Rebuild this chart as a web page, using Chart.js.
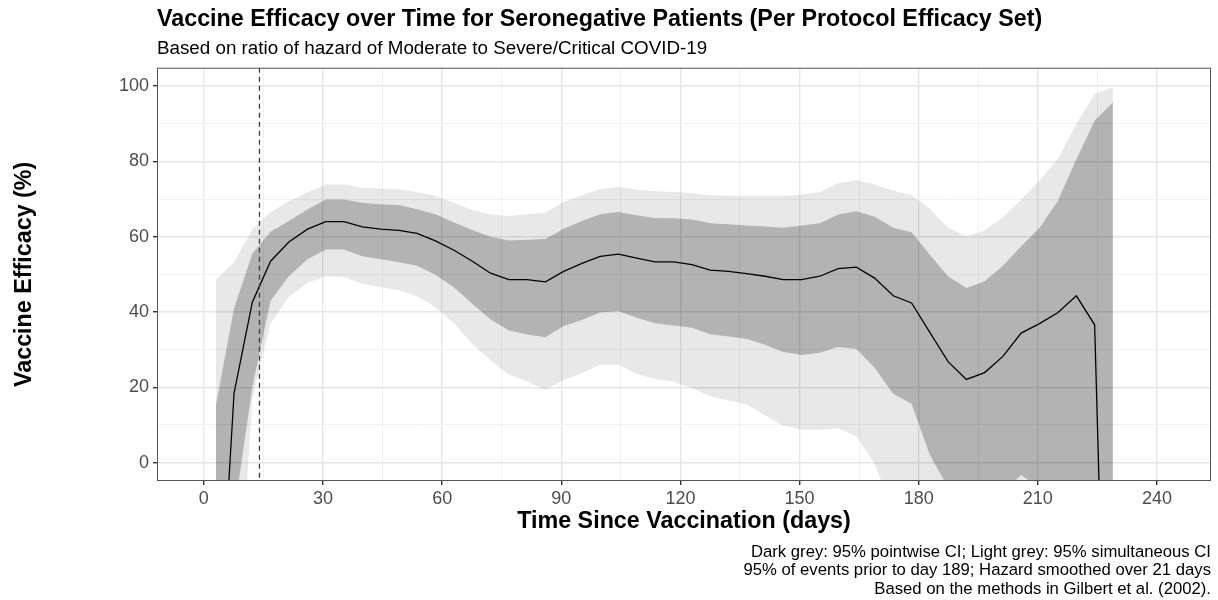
<!DOCTYPE html>
<html><head><meta charset="utf-8">
<script src="https://cdn.jsdelivr.net/npm/chart.js@4.4.1/dist/chart.umd.min.js"></script>
<style>
html,body{margin:0;padding:0;background:#fff;}
#wrap{position:relative;width:1218px;height:600px;}
#caption{position:absolute;right:7px;top:542.5px;font-family:"Liberation Sans",Arial,sans-serif;font-size:16.7px;line-height:18.5px;text-align:right;color:#000;white-space:nowrap;}
</style></head><body>
<div id="wrap"><canvas id="c" width="1218" height="600" style="width:1218px;height:600px"></canvas>
<div id="caption">Dark grey: 95% pointwise CI; Light grey: 95% simultaneous CI<br>95% of events prior to day 189; Hazard smoothed over 21 days<br>Based on the methods in Gilbert et al. (2002).</div></div>
<script>
const days = [3.0, 7.6, 12.2, 16.8, 21.4, 26.1, 30.7, 35.3, 39.9, 44.5, 49.1, 53.7, 58.3, 63.0, 67.6, 72.2, 76.8, 81.4, 86.0, 90.6,
  95.2, 99.8, 104.4, 109.0, 113.6, 118.3, 122.9, 127.5, 132.1, 136.7, 141.3, 145.9, 150.5, 155.1, 159.7, 164.3, 168.9, 173.6, 178.2, 182.8,
  187.4, 192.0, 196.6, 201.2, 205.8, 210.4, 215.0, 219.7, 224.3, 228.9];
const efficacy = [-64, 18.4, 42.6, 53.5, 58.6, 62.0, 64.0, 64.0, 62.6, 62.0, 61.7, 60.9, 58.9, 56.4, 53.5, 50.3, 48.6, 48.6, 48.0, 50.8,
  52.9, 54.8, 55.4, 54.3, 53.3, 53.3, 52.6, 51.1, 50.8, 50.2, 49.5, 48.6, 48.6, 49.5, 51.5, 51.9, 49.0, 44.3, 42.4, 34.6,
  26.8, 22.1, 23.9, 28.2, 34.4, 36.9, 39.8, 44.3, 36.6, -137];
const pointwiseUpper = [14.9, 41, 55.5, 61.3, 64.2, 67.2, 69.9, 69.9, 69.0, 68.6, 68.4, 67.3, 66.0, 63.8, 61.8, 60.0, 59.0, 59.2, 59.4, 62.1,
  64.2, 66.0, 66.6, 65.7, 65.0, 64.9, 64.6, 63.6, 63.3, 63.0, 62.7, 62.4, 63.0, 63.6, 65.9, 66.8, 65.3, 62.4, 61.2, 55.2,
  49.5, 46.4, 48.2, 52.3, 57.5, 62.3, 69.5, 80.6, 90.8, 95.7];
const pointwiseLower = [-60, -13.7, 20, 43, 49.5, 54, 56.6, 56.6, 54.8, 54.0, 53.2, 52.3, 49.9, 46.5, 42.2, 38.0, 35.1, 34.0, 33.3, 36.3,
  37.9, 39.9, 40.2, 38.5, 37.0, 36.4, 35.8, 34.1, 33.5, 32.8, 31.3, 29.4, 28.6, 29.2, 30.7, 30.2, 25.2, 18.2, 15.6, 2.0,
  -6.6, -10, -10, -7.9, -3.3, -6.8, -12, -20, -30, -40];
const simultaneousUpper = [48.6, 53.2, 61.9, 66.5, 69.4, 71.8, 73.9, 73.9, 73.0, 72.8, 72.6, 71.8, 70.9, 69.0, 67.1, 66.0, 65.5, 66.0, 66.4, 69.2,
  71.0, 72.7, 73.2, 72.5, 72.1, 71.9, 71.6, 71.0, 70.9, 70.8, 70.8, 70.8, 71.2, 71.8, 74.2, 75.0, 73.9, 72.3, 71.0, 67.4,
  62.4, 60.1, 61.7, 65.2, 69.9, 74.9, 80.6, 90.0, 97.9, 99.7];
const simultaneousLower = [-100, -60, 17, 37, 44, 47.8, 49.5, 49.2, 47.5, 46.6, 45.8, 44.2, 41.3, 37.0, 31.5, 27.2, 23.3, 21.6, 19.3, 22.0,
  23.7, 26.0, 26.0, 23.5, 22.2, 21.5, 19.8, 17.6, 16.5, 15.5, 12.5, 9.8, 8.7, 8.7, 9.1, 7.0, -0.3, -13, -22, -30,
  -40, -46, -48, -45, -40, -45, -55, -65, -80, -95];
const referenceDay = 14;
const xMajorTicks = [0, 30, 60, 90, 120, 150, 180, 210, 240];
const xMinorTicks = [15, 45, 75, 105, 135, 165, 195, 225];
const yMajorTicks = [0, 20, 40, 60, 80, 100];
const yMinorTicks = [10, 30, 50, 70, 90];

const toPts = arr => days.map((d, i) => ({x: d, y: arr[i]}));
const FONT = '"Liberation Sans", Arial, sans-serif';

const panelPlugin = {
  id: 'panel',
  afterDatasetsDraw(chart) {
    const {ctx, chartArea: a, scales} = chart;
    const xv = scales.x.getPixelForValue(referenceDay);
    ctx.save();
    ctx.beginPath();
    ctx.rect(a.left, a.top, a.right - a.left, a.bottom - a.top);
    ctx.clip();
    ctx.strokeStyle = '#3a3a3a';
    ctx.lineWidth = 1.3;
    ctx.setLineDash([5, 4]);
    ctx.beginPath();
    ctx.moveTo(xv, a.top);
    ctx.lineTo(xv, a.bottom);
    ctx.stroke();
    ctx.restore();
    ctx.save();
    ctx.strokeStyle = '#555';
    ctx.lineWidth = 1;
    ctx.strokeRect(a.left + 0.5, a.top + 0.5, a.right - a.left - 1, a.bottom - a.top - 1);
    ctx.restore();
  }
};

function gridOpts(majors) {
  return {
    color: c => majors.includes(c.tick.value) ? '#e6e6e6' : '#f1f1f1',
    lineWidth: c => majors.includes(c.tick.value) ? 1.4 : 1,
    tickColor: c => majors.includes(c.tick.value) ? '#333' : 'rgba(0,0,0,0)',
    tickLength: 4,
    drawTicks: true
  };
}

new Chart(document.getElementById('c'), {
  type: 'line',
  data: {
    datasets: [
      {label: 'Vaccine efficacy', data: toPts(efficacy), borderColor: '#000', borderWidth: 1.3, pointRadius: 0, fill: false, tension: 0},
      {label: 'Pointwise lower', data: toPts(pointwiseLower), borderWidth: 0, borderColor: 'rgba(0,0,0,0)', pointRadius: 0, fill: false},
      {label: 'Pointwise upper', data: toPts(pointwiseUpper), borderWidth: 0, borderColor: 'rgba(0,0,0,0)', pointRadius: 0, fill: '-1', backgroundColor: 'rgba(0,0,0,0.23)'},
      {label: 'Simultaneous lower', data: toPts(simultaneousLower), borderWidth: 0, borderColor: 'rgba(0,0,0,0)', pointRadius: 0, fill: false},
      {label: 'Simultaneous upper', data: toPts(simultaneousUpper), borderWidth: 0, borderColor: 'rgba(0,0,0,0)', pointRadius: 0, fill: '-1', backgroundColor: 'rgba(0,0,0,0.09)'}
    ]
  },
  options: {
    responsive: false,
    devicePixelRatio: 1,
    animation: false,
    layout: {padding: {left: 0, right: 7, top: 0, bottom: 0}},
    plugins: {
      legend: {display: false},
      tooltip: {enabled: false},
      title: {display: true, text: 'Vaccine Efficacy over Time for Seronegative Patients (Per Protocol Efficacy Set)', align: 'start', fullSize: false,
        color: '#000', font: {family: FONT, size: 23.3, weight: 'bold'}, padding: {top: 5.6, bottom: 0}},
      subtitle: {display: true, text: 'Based on ratio of hazard of Moderate to Severe/Critical COVID-19', align: 'start', fullSize: false,
        color: '#000', font: {family: FONT, size: 18.8}, padding: {top: 4, bottom: 7.6}}
    },
    scales: {
      x: {
        type: 'linear', min: -11.8, max: 253.6,
        afterBuildTicks: s => { s.ticks = xMajorTicks.concat(xMinorTicks).sort((a, b) => a - b).map(v => ({value: v})); },
        afterFit: s => { s.height = 119; },
        ticks: {autoSkip: false, maxRotation: 0, color: '#4d4d4d', font: {family: FONT, size: 18}, padding: 3,
          callback: v => xMajorTicks.includes(v) ? String(v) : ''},
        grid: gridOpts(xMajorTicks),
        border: {display: false},
        title: {display: true, text: 'Time Since Vaccination (days)', color: '#000', font: {family: FONT, size: 23.3, weight: 'bold'}, padding: {top: 0, bottom: 64.8}}
      },
      y: {
        type: 'linear', min: -4.9, max: 104.9,
        afterBuildTicks: s => { s.ticks = yMajorTicks.concat(yMinorTicks).sort((a, b) => a - b).map(v => ({value: v})); },
        afterFit: s => { s.width = 157; },
        ticks: {autoSkip: false, color: '#4d4d4d', font: {family: FONT, size: 18}, padding: 4,
          callback: v => yMajorTicks.includes(v) ? String(v) : ''},
        grid: gridOpts(yMajorTicks),
        border: {display: false},
        title: {display: true, text: 'Vaccine Efficacy (%)', color: '#000', font: {family: FONT, size: 23.3, weight: 'bold'}, padding: {top: 10.4, bottom: 0}}
      }
    }
  },
  plugins: [panelPlugin]
});
</script>
</body></html>
